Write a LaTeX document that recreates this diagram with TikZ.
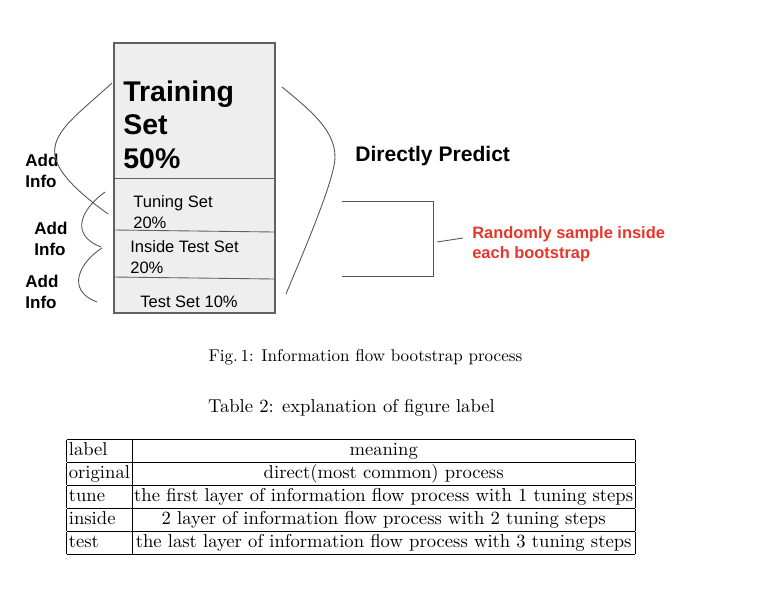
\documentclass[tikz,border=0pt]{standalone}
\usepackage{fontspec}
\setsansfont{Liberation Sans}
\usepackage{tikz}
\usetikzlibrary{positioning}
\usepackage{xcolor}
\definecolor{boxfill}{HTML}{EEEEEE}
\definecolor{boxline}{HTML}{606060}
\definecolor{braceline}{HTML}{555555}
\definecolor{notered}{HTML}{E8352A}

\begin{document}
\begin{tikzpicture}[x=0.02cm, y=-0.02cm,
    setlabel/.style={font=\sffamily\fontsize{9.4}{11.4}\selectfont, inner sep=0, anchor=base west, align=left},
    addinfo/.style={font=\sffamily\bfseries\fontsize{9.7}{11.4}\selectfont, inner sep=0, anchor=base west, align=left},
    brace/.style={draw=braceline, line width=0.5pt}]

                    \useasboundingbox (0,0) rectangle (764,606);

                    % Split box
                    \filldraw[fill=boxfill, draw=boxline, line width=0.6pt] (114,43) rectangle (275,313);
                    \draw[boxline, line width=0.5pt] (114,178) -- (275,178);
                    \draw[boxline, line width=0.5pt] (114,230) -- (275,232);
                    \draw[boxline, line width=0.5pt] (114,277) -- (275,279);

                    % Parts of the data (base = last line)
                    \node[font=\sffamily\bfseries\fontsize{16.2}{19}\selectfont, inner sep=0, anchor=base west, align=left]
                        (train) at (123,168) {Training\\Set\\50\%};
                    \node[setlabel] (tune) at (133,228) {Tuning Set\\20\%};
                    \node[setlabel] (inside) at (130,273) {Inside Test Set\\20\%};
                    \node[setlabel] (test) at (140,307) {Test Set 10\%};

                    % Add info labels
                    \node[addinfo] (add1) at (25,187) {Add\\Info};
                    \node[addinfo] (add2) at (34,255) {Add\\Info};
                    \node[addinfo] (add3) at (25,308) {Add\\Info};

                    % Braces on the left
                    \coordinate (l1a) at (112,83);
                    \coordinate (l1b) at (108,214);
                    \coordinate (l2a) at (105,192);
                    \coordinate (l2b) at (101,247);
                    \coordinate (l3a) at (102,248);
                    \coordinate (l3b) at (97,302);
                    \draw[brace] (l1a) .. controls (55,135) and (20,150) .. (l1b);
                    \draw[brace] (l2a) .. controls (80,210) and (70,235) .. (l2b);
                    \draw[brace] (l3a) .. controls (80,262) and (65,290) .. (l3b);

                    % Brace on the right
                    \coordinate (ra) at (282,87);
                    \coordinate (rm) at (335,157);
                    \coordinate (rb) at (286,294);
                    \draw[brace] (ra) .. controls (310,110) and (335,130) .. (rm)
                                      .. controls (335,180) and (300,260) .. (rb);
                    \node[font=\sffamily\bfseries\fontsize{12}{14}\selectfont, inner sep=0, anchor=base west]
                        (direct) at (355,161) {Directly Predict};

                    % Bootstrap bracket
                    \coordinate (bt) at (342,201);
                    \coordinate (bb) at (342,276);
                    \draw[brace] (bt) -- (433,201) -- (433,276) -- (bb);
                    \node[font=\sffamily\bfseries\fontsize{9.35}{11.2}\selectfont, text=notered, inner sep=0, anchor=base west, align=left]
                        (sample) at (472,258) {Randomly sample inside\\each bootstrap};
                    \coordinate (tick) at (437,242);
                    \draw[brace] (tick) -- (463,238);

                    % Captions
                    \node[font=\fontsize{9.7}{11.6}\selectfont, inner sep=0, anchor=base] (fig) at (365.5,361)
                        {Fig.\,1: Information flow bootstrap process};
                    \node[font=\fontsize{10.6}{12.6}\selectfont, inner sep=0, anchor=base] (tabcap) at (351.5,412)
                        {Table 2: explanation of figure label};

                    % Label table
                    \node[font=\fontsize{10.6}{12.7}\selectfont, inner sep=0, anchor=north] (labels) at (351,439) {%
                        \setlength{\tabcolsep}{1.2pt}%
                        \begin{tabular}{|l|c|}
                        \hline
                        label & meaning\\ \hline
                        original & direct(most common) process\\ \hline
                        tune & the first layer of information flow process with 1 tuning steps\\ \hline
                        inside & 2 layer of information flow process with 2 tuning steps\\ \hline
                        test & the last layer of information flow process with 3 tuning steps\\ \hline
                        \end{tabular}};

                \end{tikzpicture}
\end{document}
